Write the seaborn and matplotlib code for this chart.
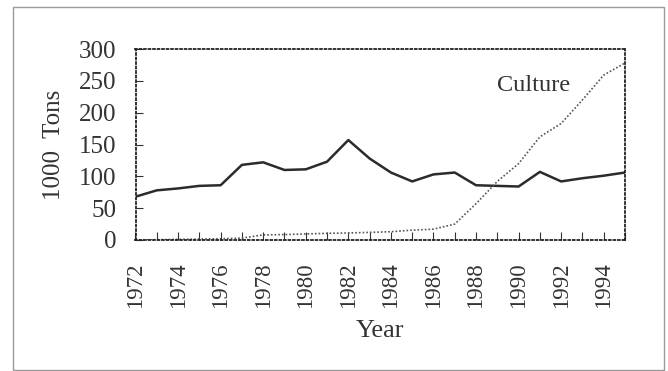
import matplotlib
matplotlib.use("Agg")
import matplotlib.pyplot as plt
import seaborn as sns
import pandas as pd
from matplotlib.patches import Rectangle

years = list(range(1972, 1996))
capture = [68, 78, 81, 85, 86, 118, 122, 110, 111, 123, 157, 128, 106, 92, 103, 106,
           86, 85, 84, 107, 92, 97, 101, 106]
culture = [0, 0.5, 1, 1.5, 2, 3, 8, 8.5, 9.5, 10.5, 11, 12, 13, 15.5, 17, 25,
           57, 92, 120, 162, 183, 220, 259, 278]
xtick_years = list(range(1972, 1996, 2))
yticks = [0, 50, 100, 150, 200, 250, 300]

sns.set_style("ticks")
plt.rcParams['font.family'] = ['Liberation Serif', 'DejaVu Serif']

fig = plt.figure(figsize=(6.68, 3.71), dpi=100)
fig.patches.append(Rectangle((13/668, 1/371), (664-13)/668, (364-1)/371,
                             transform=fig.transFigure, fill=False,
                             edgecolor='#9a9a9a', linewidth=1.0))
ax = fig.add_axes([135.5/668, 1 - 240/371, (625-135.5)/668, (240-49)/371])

df = pd.DataFrame({"Year": years * 2,
                   "Value": capture + culture,
                   "Series": ["Capture"] * len(years) + ["Culture"] * len(years)})

sns.lineplot(data=df[df.Series == "Capture"], x="Year", y="Value", ax=ax,
             color='#2b2b2b', linewidth=1.8)
sns.lineplot(data=df[df.Series == "Culture"], x="Year", y="Value", ax=ax,
             color='#555555', linewidth=1.2, linestyle=(0, (1, 1.2)))

ax.set_xlim(1972, 1995)
ax.set_ylim(0, 300)
ax.set_xticks(years, minor=False)
ax.set_xticklabels([str(y) if y in xtick_years else "" for y in years],
                   rotation=90, fontsize=16.5)
ax.set_yticks(yticks)
ax.set_yticklabels([str(v) for v in yticks], fontsize=18)
ax.tick_params(axis='x', direction='in', length=6, width=0.8, pad=16, color='#333333')
ax.tick_params(axis='y', direction='in', length=5, width=0.8, pad=14, color='#333333')

for s in ax.spines.values():
    s.set_visible(True)
    s.set_linestyle((0, (1, 1.5)))
    s.set_linewidth(1.3)
    s.set_color('#222222')

ax.set_xlabel("Year", fontsize=19, labelpad=9, color='#333333')
ax.set_ylabel("1000  Tons", fontsize=18, labelpad=10, color='#333333')
ax.text(1989, 243, "Culture", fontsize=17.5, ha='left', va='center', color='#333333')

for lab in ax.get_xticklabels() + ax.get_yticklabels():
    lab.set_color('#333333')

fig.savefig("out.png", dpi=100)
